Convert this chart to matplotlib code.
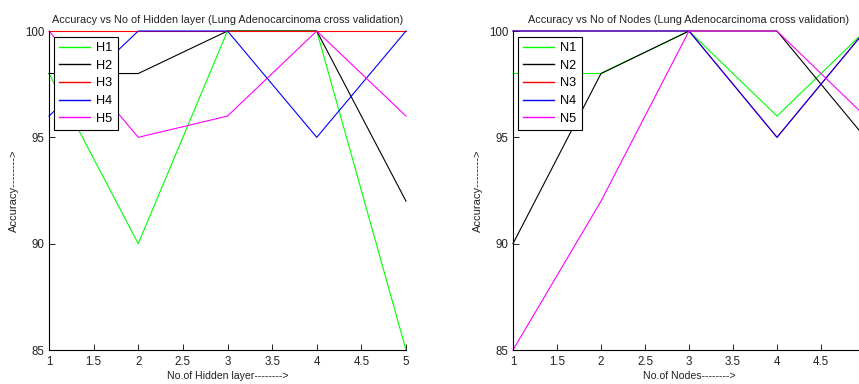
import matplotlib
matplotlib.use('Agg')
import matplotlib.pyplot as plt

plt.rcParams['font.family'] = ['Liberation Sans', 'DejaVu Sans']

# x values shared by both panels
x_vals = [1, 2, 3, 4, 5]

# left panel: accuracy vs number of hidden layers
h_labels = ['H1', 'H2', 'H3', 'H4', 'H5']
h1 = [98, 90, 100, 100, 85]
h2 = [98, 98, 100, 100, 92]
h3 = [100, 100, 100, 100, 100]
h4 = [96, 100, 100, 95, 100]
h5 = [100, 95, 96, 100, 96]

# right panel: accuracy vs number of nodes
n_labels = ['N1', 'N2', 'N3', 'N4', 'N5']
n1 = [98, 98, 100, 96, 100]
n2 = [90, 98, 100, 100, 95]
n3 = [100, 100, 100, 95, 100]   # hidden under N4 in the picture
n4 = [100, 100, 100, 95, 100]
n5 = [85, 92, 100, 100, 96]

y_ticks = [85, 90, 95, 100]
x_ticks = [1, 1.5, 2, 2.5, 3, 3.5, 4, 4.5, 5]
x_tick_labels = ['1', '1.5', '2', '2.5', '3', '3.5', '4', '4.5', '5']

colors = ['#00ff00', '#000000', '#ff0000', '#0000ff', '#ff00ff']
W, H = 859, 384

fig = plt.figure(figsize=(W / 100, H / 100), dpi=100)


def make_panel(rect, series, labels, title, xlabel, legend_xy, nticks):
    ax = fig.add_axes(rect)
    for ys, lab, c in zip(series, labels, colors):
        ax.plot(x_vals, ys, color=c, lw=0.8, label=lab, clip_on=False)
    ax.set_xlim(1, 5)
    ax.set_ylim(85, 100)
    ax.set_xticks(x_ticks[:nticks])
    ax.set_xticklabels(x_tick_labels[:nticks])
    ax.set_yticks(y_ticks)
    ax.tick_params(direction='in', length=4, width=0.7, labelsize=8.3, pad=4, colors='#222222')
    ax.tick_params(axis='y', pad=3)
    for s in ['top', 'right']:
        ax.spines[s].set_visible(False)
    for s in ['left', 'bottom']:
        ax.spines[s].set_linewidth(0.8)
    ax.set_title(title, fontsize=7.8, color='#222222', pad=6)
    ax.set_xlabel(xlabel, fontsize=7.6, color='#222222')
    ax.set_ylabel('Accuracy-------->', fontsize=8, color='#222222')
    leg = ax.legend(loc='upper left', bbox_to_anchor=legend_xy, bbox_transform=fig.transFigure,
                    fontsize=9.2, frameon=True, fancybox=False, framealpha=1, edgecolor='black',
                    handlelength=2.4, labelspacing=0.44, borderpad=0.4, handletextpad=0.5,
                    borderaxespad=0)
    leg.get_frame().set_linewidth(0.8)
    for line in leg.get_lines():
        line.set_linewidth(1.0)
    return ax


ax1 = make_panel([49 / W, 1 - 350 / H, (406 - 49) / W, 319 / H],
                 [h1, h2, h3, h4, h5], h_labels,
                 'Accuracy vs No of Hidden layer (Lung Adenocarcinoma cross validation)',
                 'No.of Hidden layer-------->', (54 / W, 1 - 37 / H), 9)
ax1.yaxis.set_label_coords(-30 / 357, 0.5)
ax1.xaxis.set_label_coords(0.5, -21 / 319)

# right panel runs past the edge of the picture, so its last tick is off-canvas
ax2 = make_panel([513 / W, 1 - 350 / H, 352 / W, 319 / H],
                 [n1, n2, n3, n4, n5], n_labels,
                 'Accuracy vs No of Nodes (Lung Adenocarcinoma cross validation)',
                 'No.of Nodes-------->', (518 / W, 1 - 37 / H), 8)
ax2.yaxis.set_label_coords(-30 / 352, 0.5)
ax2.xaxis.set_label_coords(0.5, -21 / 319)

fig.savefig('out.png', dpi=100)
